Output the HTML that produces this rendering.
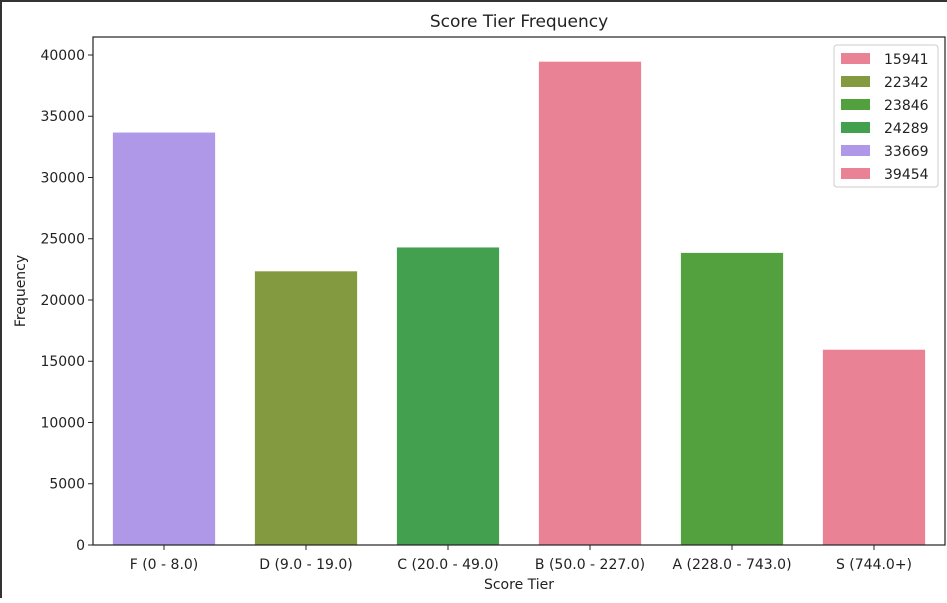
<!DOCTYPE html>
<html><head><meta charset="utf-8"><style>
body{margin:0;background:#fff;}
svg text{font-family:"DejaVu Sans","Liberation Sans",sans-serif;fill:#222;}
</style></head><body>
<svg id="chart" width="947" height="598" xmlns="http://www.w3.org/2000/svg">
<rect x="0" y="0" width="947" height="598" fill="#fff"/>
<rect x="0" y="0" width="947" height="2" fill="#333"/>
<rect x="0" y="0" width="2" height="598" fill="#333"/>
<text x="519" y="27" font-size="17" text-anchor="middle">Score Tier Frequency</text>
<g id="bars"></g>
<g id="yaxis"></g>
<g id="xaxis"></g>
<rect x="93" y="37" width="852" height="508" fill="none" stroke="#222" stroke-width="1.2"/>
<text x="519" y="589" font-size="14" text-anchor="middle">Score Tier</text>
<text transform="translate(25,291) rotate(-90)" font-size="14" text-anchor="middle">Frequency</text>
<g id="legend"></g>
</svg>
<script>
const categories=["F (0 - 8.0)","D (9.0 - 19.0)","C (20.0 - 49.0)","B (50.0 - 227.0)","A (228.0 - 743.0)","S (744.0+)"];
const values=[33669,22342,24289,39454,23846,15941];
const colors=["#ae98e7","#839a41","#42a04f","#e88294","#53a03f","#e88294"];
const yTicks=[0,5000,10000,15000,20000,25000,30000,35000,40000];
const legendLabels=["15941","22342","23846","24289","33669","39454"];
const legendColors=["#e88294","#839a41","#53a03f","#42a04f","#ae98e7","#e88294"];
const NS="http://www.w3.org/2000/svg";
const L=93,R=945,T=37,B=545,YMAX=41469;
const step=(R-L)/categories.length;
const xs=i=>L+step*(i+0.5);
const ys=v=>B-(v/YMAX)*(B-T);
function mk(t,a,p){const e=document.createElementNS(NS,t);for(const k in a)e.setAttribute(k,a[k]);p.appendChild(e);return e;}
const bars=document.getElementById('bars'),ya=document.getElementById('yaxis'),xa=document.getElementById('xaxis'),lg=document.getElementById('legend');
const bw=step*0.72;
values.forEach((v,i)=>{
 const r=mk('rect',{x:xs(i)-bw/2,y:ys(v),width:bw,height:B-ys(v),fill:colors[i]},bars);
 
 
 const tk=mk('line',{x1:xs(i),x2:xs(i),y1:B,y2:B+5,stroke:'#222'},xa);
 
 
 const t=mk('text',{x:xs(i),y:B+24,'font-size':14,'text-anchor':'middle'},xa);
 t.textContent=categories[i];
 
 
});
yTicks.forEach(v=>{
 const tk=mk('line',{x1:L-5,x2:L,y1:ys(v),y2:ys(v),stroke:'#222'},ya);
 
 
 const t=mk('text',{x:L-8,y:ys(v)+5,'font-size':14,'text-anchor':'end'},ya);
 t.textContent=v;
 
 
});
const box=mk('rect',{x:834,y:45,width:104,height:142,rx:3,fill:'#fff',stroke:'#ccc'},lg);


legendLabels.forEach((s,i)=>{
 const y=59+i*23;
 const g=mk('g',{},lg);
 
 
 mk('rect',{x:841,y:y-6,width:29,height:11,fill:legendColors[i]},g);
 const t=mk('text',{x:884,y:y+5,'font-size':14},g);
 t.textContent=s;
});
</script>
</body></html>
